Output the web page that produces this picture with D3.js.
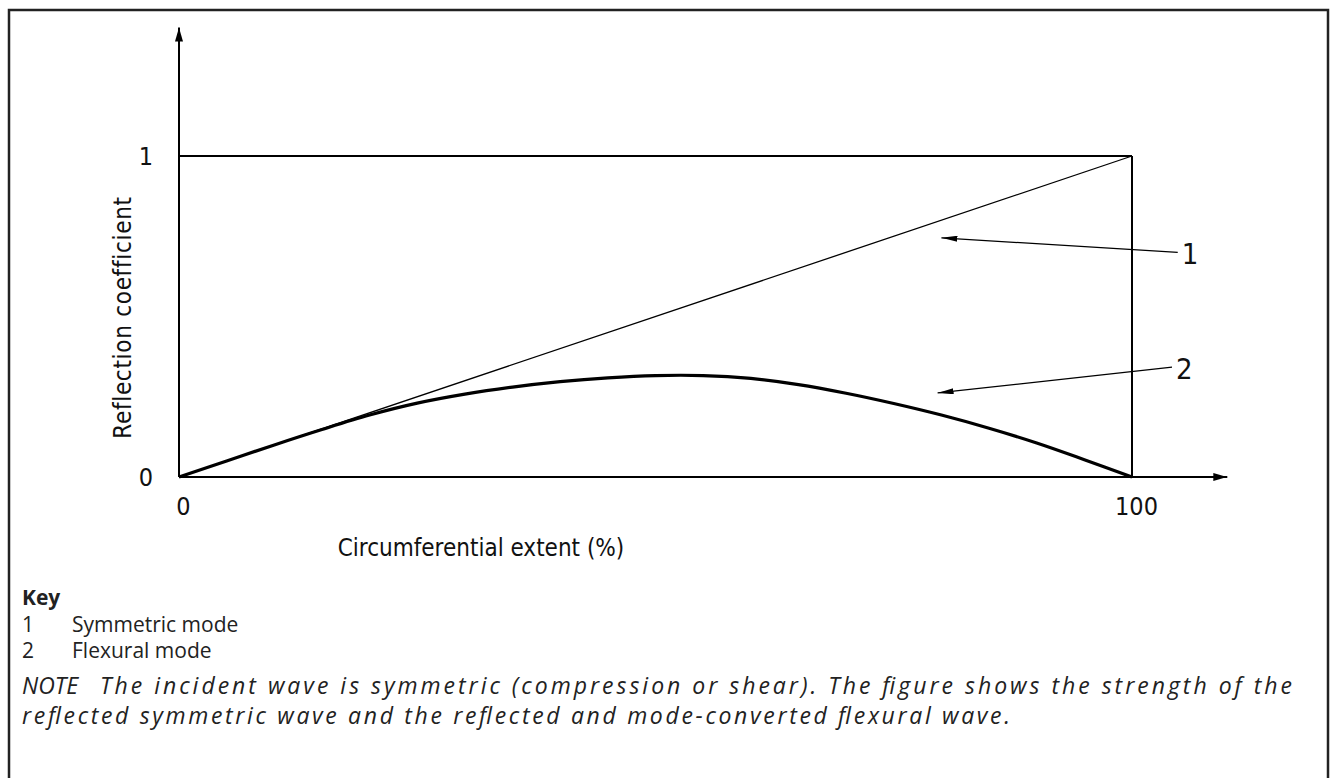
<!DOCTYPE html>
<html>
<head>
<meta charset="utf-8">
<script src="https://cdn.jsdelivr.net/npm/d3@7"></script>
<style>
  body { margin: 0; background: #fff; }
  .tech { font-family: "DejaVu Sans Condensed", "DejaVu Sans", sans-serif; font-stretch: condensed; fill: #111; }
  .key { font-family: "Open Sans", "Noto Sans", sans-serif; fill: #222; }
</style>
</head>
<body>
<div id="chart"></div>
<script>
// circumferential extent (%) and reflection coefficient
var extent = [0, 5, 10, 15, 20, 25, 30, 35, 40, 45, 50, 55, 60, 65, 70, 75, 80, 85, 90, 95, 100];
var flexural = [0, 0.05, 0.10, 0.148, 0.193, 0.23, 0.258, 0.28, 0.297, 0.309, 0.316, 0.316, 0.307, 0.288, 0.261, 0.229, 0.193, 0.152, 0.106, 0.054, 0];
var symmetricX = [0, 100];
var symmetric = [0, 1];

var xTicks = [0, 100];
var yTicks = [0, 1];

// callouts: label, arrow tip, leader end (data units)
var callouts = [
  { label: "1", tip: [80, 0.745], end: [104.8, 0.70] },
  { label: "2", tip: [79.6, 0.262], end: [104.2, 0.342] }
];

var keyItems = [["1", "Symmetric mode"], ["2", "Flexural mode"]];
var noteLines = [
  "The incident wave is symmetric (compression or shear). The figure shows the strength of the",
  "reflected symmetric wave and the reflected and mode-converted flexural wave."
];

var width = 1330, height = 778;
var svg = d3.select('#chart').append('svg')
            .attr('width', width)
            .attr('height', height);

// outer frame
svg.append('rect')
   .attr('x', 9).attr('y', 10)
   .attr('width', 1319).attr('height', 800)
   .style('fill', 'none')
   .style('stroke', '#222')
   .style('stroke-width', 2.5);

var x = d3.scaleLinear().domain([0, 100]).range([179, 1132]);
var y = d3.scaleLinear().domain([0, 1]).range([477, 156]);

var defs = svg.append('defs');
defs.append('marker')
    .attr('id', 'axisArrow')
    .attr('viewBox', '0 0 14 8')
    .attr('refX', 14).attr('refY', 4)
    .attr('markerWidth', 14).attr('markerHeight', 8)
    .attr('markerUnits', 'userSpaceOnUse')
    .attr('orient', 'auto')
  .append('path')
    .attr('d', 'M0,0L14,4L0,8Z')
    .style('fill', '#000');
defs.append('marker')
    .attr('id', 'leadArrow')
    .attr('viewBox', '0 0 16 6')
    .attr('refX', 16).attr('refY', 3)
    .attr('markerWidth', 16).attr('markerHeight', 6)
    .attr('markerUnits', 'userSpaceOnUse')
    .attr('orient', 'auto')
  .append('path')
    .attr('d', 'M0,0L16,3L0,6Z')
    .style('fill', '#000');

// axes with arrows
svg.append('line')
   .attr('x1', x(0)).attr('y1', y(0))
   .attr('x2', x(0)).attr('y2', y(1.4))
   .style('stroke', '#000').style('stroke-width', 2)
   .attr('marker-end', 'url(#axisArrow)');
svg.append('line')
   .attr('x1', x(0)).attr('y1', y(0))
   .attr('x2', x(110)).attr('y2', y(0))
   .style('stroke', '#000').style('stroke-width', 2)
   .attr('marker-end', 'url(#axisArrow)');

// limit lines: coefficient 1 and extent 100 %
svg.append('line')
   .attr('x1', x(0)).attr('y1', y(1))
   .attr('x2', x(100)).attr('y2', y(1))
   .style('stroke', '#000').style('stroke-width', 2);
svg.append('line')
   .attr('x1', x(100)).attr('y1', y(1))
   .attr('x2', x(100)).attr('y2', y(0))
   .style('stroke', '#000').style('stroke-width', 2);

// tick labels via axes (no domain, no tick lines)
var yAxis = svg.append('g')
   .attr('transform', 'translate(' + x(0) + ',0)')
   .call(d3.axisLeft(y).tickValues(yTicks).tickSize(0).tickPadding(26).tickFormat(d3.format('d')));
var xAxis = svg.append('g')
   .attr('transform', 'translate(0,' + y(0) + ')')
   .call(d3.axisBottom(x).tickValues(xTicks).tickSize(0).tickPadding(20).tickFormat(d3.format('d')));
[yAxis, xAxis].forEach(function(g) {
  g.select('.domain').remove();
  g.selectAll('text')
   .attr('class', 'tech')
   .style('font-size', '25px')
   .style('font-family', '"DejaVu Sans Condensed", "DejaVu Sans", sans-serif')
   .style('fill', '#111');
});
xAxis.selectAll('text').attr('dx', 4);

// series
var line = d3.line()
   .x(function(d) { return x(d[0]); })
   .y(function(d) { return y(d[1]); });

svg.append('path')
   .datum(symmetricX.map(function(v, i) { return [v, symmetric[i]]; }))
   .attr('d', line)
   .style('fill', 'none')
   .style('stroke', '#000')
   .style('stroke-width', 1.3);

svg.append('path')
   .datum(extent.map(function(v, i) { return [v, flexural[i]]; }))
   .attr('d', line.curve(d3.curveCatmullRom.alpha(0.5)))
   .style('fill', 'none')
   .style('stroke', '#000')
   .style('stroke-width', 3.2);

// callouts
callouts.forEach(function(c) {
  svg.append('line')
     .attr('x1', x(c.end[0])).attr('y1', y(c.end[1]))
     .attr('x2', x(c.tip[0])).attr('y2', y(c.tip[1]))
     .style('stroke', '#000').style('stroke-width', 1.2)
     .attr('marker-end', 'url(#leadArrow)');
  svg.append('text')
     .attr('class', 'tech')
     .attr('x', x(c.end[0]) + 4)
     .attr('y', y(c.end[1]) + 12)
     .style('font-size', '29px')
     .text(c.label);
});

// axis titles
svg.append('text')
   .attr('class', 'tech')
   .attr('transform', 'translate(131,' + ((y(0) + y(1)) / 2 + 1) + ') rotate(-90)')
   .attr('text-anchor', 'middle')
   .style('font-size', '24px')
   .style('letter-spacing', '0.7px')
   .text('Reflection coefficient');
svg.append('text')
   .attr('class', 'tech')
   .attr('x', 481).attr('y', 556)
   .attr('text-anchor', 'middle')
   .style('font-size', '24px')
   .style('letter-spacing', '0px')
   .text('Circumferential extent (%)');

// key
svg.append('text')
   .attr('class', 'key')
   .attr('x', 22).attr('y', 605)
   .style('font-size', '21px')
   .style('font-weight', 'bold')
   .text('Key');
keyItems.forEach(function(k, i) {
  svg.append('text').attr('class', 'key')
     .attr('x', 22).attr('y', 632 + i * 26)
     .style('font-size', '21px').text(k[0]);
  svg.append('text').attr('class', 'key')
     .attr('x', 72).attr('y', 632 + i * 26)
     .style('font-size', '21px').text(k[1]);
});

// note
svg.append('text').attr('class', 'key')
   .attr('x', 22).attr('y', 694)
   .style('font-size', '23px').style('font-style', 'italic')
   .text('NOTE');
svg.append('text').attr('class', 'key')
   .attr('x', 100).attr('y', 694)
   .attr('textLength', 1192).attr('lengthAdjust', 'spacing')
   .style('font-size', '23px').style('font-style', 'italic')
   .text(noteLines[0]);
svg.append('text').attr('class', 'key')
   .attr('x', 22).attr('y', 724)
   .attr('textLength', 988).attr('lengthAdjust', 'spacing')
   .style('font-size', '23px').style('font-style', 'italic')
   .text(noteLines[1]);
</script>
</body>
</html>
